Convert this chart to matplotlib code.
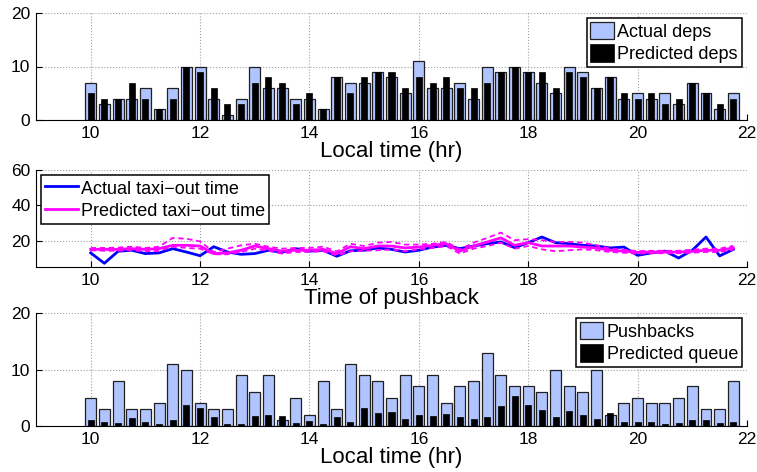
import numpy as np
import matplotlib
matplotlib.use("Agg")
import matplotlib.pyplot as plt

plt.rcParams['font.family'] = ['Liberation Sans', 'DejaVu Sans']
plt.rcParams['legend.handleheight'] = 1.1

# 15-minute bins, 10:00 to 21:45
times = np.arange(10, 22, 0.25)

actual_deps = [7, 3, 4, 4, 6, 2, 6, 10, 10, 4, 1, 4,
               10, 6, 6, 4, 4, 2, 8, 7, 7, 9, 8, 5,
               11, 6, 6, 7, 4, 10, 9, 10, 9, 7, 5, 10,
               9, 6, 8, 4, 5, 4, 5, 3, 7, 5, 2, 5]
predicted_deps = [5, 4, 4, 7, 4, 2, 4, 10, 9, 6, 3, 3,
                  7, 8, 7, 3, 5, 2, 8, 5, 8, 9, 9, 6,
                  8, 7, 8, 6, 6, 7, 9, 10, 9, 9, 6, 9,
                  8, 6, 8, 5, 4, 5, 3, 4, 7, 5, 3, 4]

actual_taxi = [13.0, 7.1, 13.9, 14.5, 12.6, 13.0, 15.4, 13.5, 11.4, 16.5, 13.5, 12.2,
               12.6, 14.5, 13.3, 15.4, 14.0, 14.5, 11.1, 14.2, 14.5, 15.8, 15.0, 13.5,
               14.5, 16.3, 17.3, 15.4, 16.9, 18.2, 19.2, 16.0, 18.8, 22.0, 18.8, 18.2,
               17.3, 16.9, 15.8, 16.3, 11.6, 13.0, 14.0, 10.1, 14.5, 22.0, 11.3, 15.0]
pred_taxi = [15.0, 15.0, 15.0, 15.4, 15.0, 15.4, 17.3, 17.3, 16.9, 12.6, 13.0, 14.5,
             16.9, 15.4, 14.0, 14.5, 14.5, 15.0, 12.6, 16.5, 15.4, 16.9, 16.9, 15.8,
             16.3, 17.3, 18.2, 14.0, 16.9, 19.2, 21.5, 17.3, 18.8, 16.9, 16.9, 16.9,
             16.3, 15.8, 14.5, 14.0, 13.3, 13.5, 13.5, 13.5, 13.9, 14.5, 14.5, 15.8]
pred_taxi_hi = [15.8, 15.8, 16.0, 16.5, 15.8, 16.5, 21.5, 21.0, 19.5, 13.5, 15.4, 17.3,
                18.2, 16.5, 15.4, 15.8, 15.8, 16.5, 13.9, 18.2, 16.9, 18.8, 19.2, 17.7,
                17.7, 18.2, 19.2, 15.0, 18.8, 21.5, 24.5, 20.2, 20.8, 20.2, 19.2, 19.2,
                18.8, 17.3, 15.4, 14.8, 14.0, 14.2, 14.2, 14.2, 14.8, 15.4, 15.4, 17.0]
pred_taxi_lo = [14.5, 14.2, 14.2, 14.5, 13.9, 14.2, 16.5, 15.8, 15.4, 12.2, 12.2, 13.5,
                15.4, 14.2, 12.6, 13.5, 13.5, 13.9, 11.6, 13.9, 14.2, 14.5, 15.0, 13.9,
                15.0, 15.8, 16.9, 12.6, 15.4, 16.9, 18.8, 15.4, 16.9, 15.0, 13.9, 14.5,
                15.0, 14.5, 13.5, 13.1, 12.6, 12.8, 12.8, 12.8, 13.1, 13.5, 13.5, 14.8]

pushbacks = [5, 3, 8, 3, 3, 4, 11, 10, 4, 3, 3, 9,
             6, 9, 1, 5, 2, 8, 3, 11, 9, 8, 5, 9,
             7, 9, 4, 7, 8, 13, 9, 7, 7, 6, 10, 7,
             6, 10, 2, 4, 5, 4, 4, 5, 7, 3, 3, 8]
predicted_queue = [1.0, 0.65, 0.6, 1.4, 0.7, 0.3, 1.0, 3.75, 3.15, 1.6, 0.4, 0.4,
                   1.85, 2.0, 1.85, 0.5, 0.9, 0.3, 1.65, 0.75, 3.15, 2.3, 2.55, 1.25,
                   2.0, 1.7, 2.1, 1.55, 1.2, 1.55, 3.6, 5.35, 3.75, 2.75, 1.55, 2.6,
                   2.0, 1.25, 2.3, 0.75, 0.7, 0.7, 0.4, 0.55, 1.1, 1.1, 0.5, 0.7]

light_blue = '#b0c4ff'
xticks = [10, 12, 14, 16, 18, 20, 22]

fig = plt.figure(figsize=(7.57, 4.72), dpi=100)
W, H = 757, 472


def make_axes(top, bottom):
    return fig.add_axes([36 / W, 1 - bottom / H, 711 / W, (bottom - top) / H])


def style(ax):
    ax.set_xlim(9, 22)
    ax.set_xticks(xticks)
    for s in ['top', 'right']:
        ax.spines[s].set_visible(False)
    ax.grid(True, linestyle=':', color='#a0a0a0', linewidth=0.8)
    ax.set_axisbelow(True)
    ax.tick_params(direction='in', length=4, labelsize=12.5, pad=4)


def add_legend(ax, loc, handlelength):
    leg = ax.legend(loc=loc, fontsize=13, frameon=True, fancybox=False,
                    edgecolor='k', borderpad=0.2, handlelength=handlelength,
                    handletextpad=0.2, labelspacing=0.2, borderaxespad=0.3,
                    framealpha=1)
    leg.get_frame().set_linewidth(1.1)


ax1 = make_axes(13, 120)
ax1.bar(times, actual_deps, width=0.2, color=light_blue, edgecolor='#202020',
        linewidth=0.9, label='Actual deps')
ax1.bar(times, predicted_deps, width=0.11, color='k', edgecolor='k',
        linewidth=0.5, label='Predicted deps')
style(ax1)
ax1.set_ylim(0, 20)
ax1.set_yticks([0, 10, 20])
ax1.set_xlabel('Local time (hr)', fontsize=16, labelpad=0)
add_legend(ax1, 'upper right', 1.3)

ax2 = make_axes(170, 267)
ax2.plot(times, actual_taxi, color='#0000ff', linewidth=2, label='Actual taxi\u2212out time')
ax2.plot(times, pred_taxi, color='#ff00ff', linewidth=2, label='Predicted taxi\u2212out time')
ax2.plot(times, pred_taxi_hi, color='#ff00ff', linewidth=1.3, linestyle=(0, (3, 2)))
ax2.plot(times, pred_taxi_lo, color='#ff00ff', linewidth=1.3, linestyle=(0, (3, 2)))
style(ax2)
ax2.set_ylim(5, 60)
ax2.set_yticks([20, 40, 60])
ax2.set_xlabel('Time of pushback', fontsize=16, labelpad=0)
add_legend(ax2, 'upper left', 1.8)

ax3 = make_axes(313, 426)
ax3.bar(times, pushbacks, width=0.2, color=light_blue, edgecolor='#202020',
        linewidth=0.9, label='Pushbacks')
ax3.bar(times, predicted_queue, width=0.11, color='k', edgecolor='k',
        linewidth=0.5, label='Predicted queue')
style(ax3)
ax3.set_ylim(0, 20)
ax3.set_yticks([0, 10, 20])
ax3.set_xlabel('Local time (hr)', fontsize=16, labelpad=0)
add_legend(ax3, 'upper right', 1.3)

fig.savefig('out.png', dpi=100)
